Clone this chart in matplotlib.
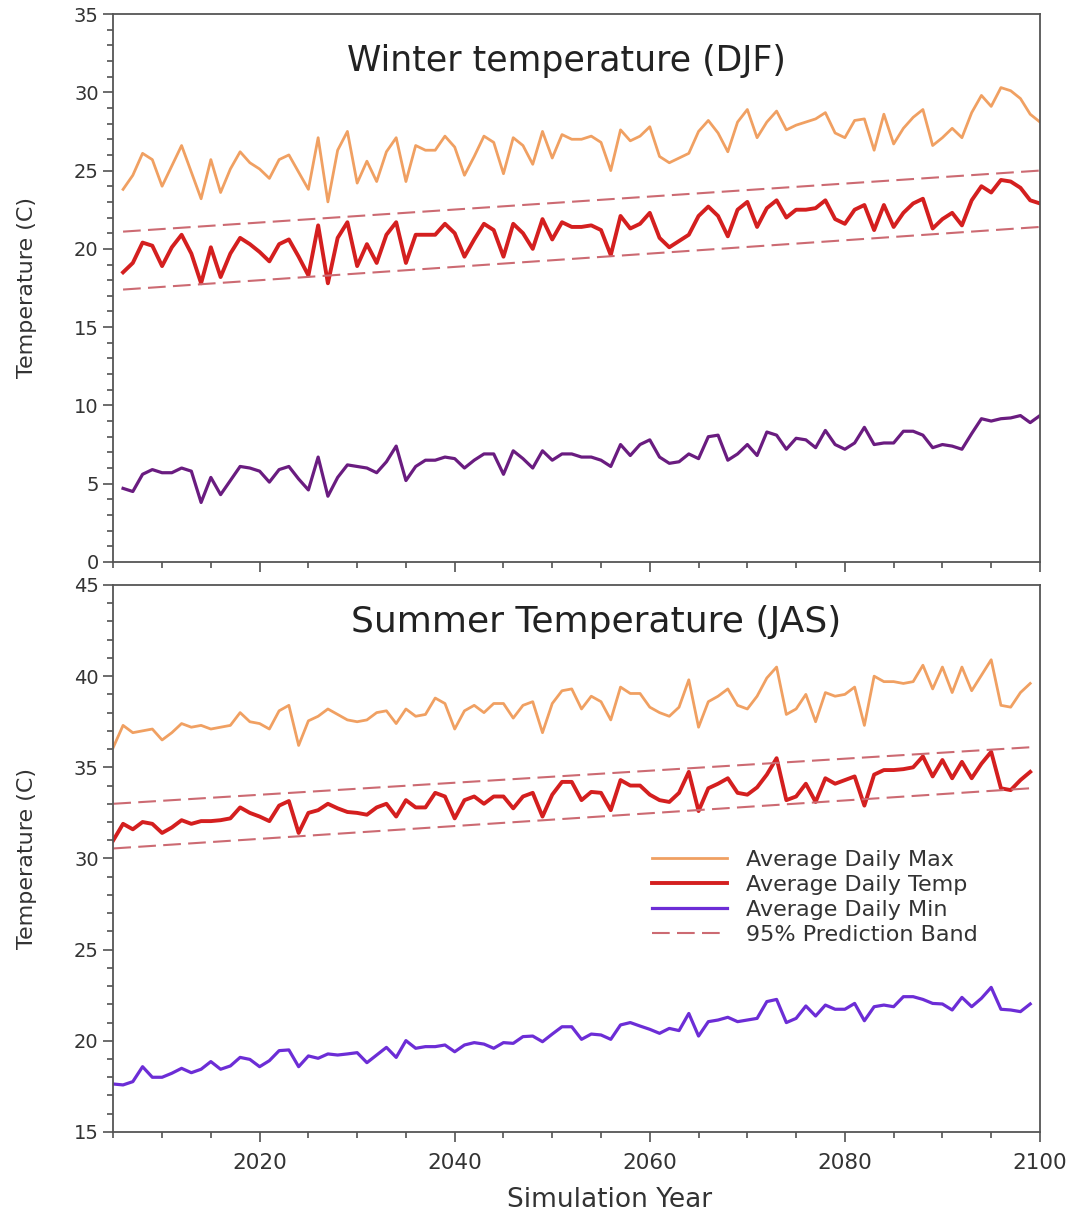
import numpy as np
import matplotlib.pyplot as plt
from matplotlib.ticker import MultipleLocator

plt.rcParams['font.family'] = ['DejaVu Sans']

# winter (DJF) series, 2006-2100
winter_years = list(range(2006, 2101))
winter_max = [23.8, 24.7, 26.1, 25.7, 24.0, 25.3, 26.6, 24.9, 23.2, 25.7,
              23.6, 25.1, 26.2, 25.5, 25.1, 24.5, 25.7, 26.0, 24.9, 23.8,
              27.1, 23.0, 26.3, 27.5, 24.2, 25.6, 24.3, 26.2, 27.1, 24.3,
              26.6, 26.3, 26.3, 27.2, 26.5, 24.7, 25.9, 27.2, 26.8, 24.8,
              27.1, 26.6, 25.4, 27.5, 25.8, 27.3, 27.0, 27.0, 27.2, 26.8,
              25.0, 27.6, 26.9, 27.2, 27.8, 25.9, 25.5, 25.8, 26.1, 27.5,
              28.2, 27.4, 26.2, 28.1, 28.9, 27.1, 28.1, 28.8, 27.6, 27.9,
              28.1, 28.3, 28.7, 27.4, 27.1, 28.2, 28.3, 26.3, 28.6, 26.7,
              27.7, 28.4, 28.9, 26.6, 27.1, 27.7, 27.1, 28.7, 29.8, 29.1,
              30.3, 30.1, 29.6, 28.6, 28.1]
winter_temp = [18.5, 19.1, 20.4, 20.2, 18.9, 20.1, 20.9, 19.7, 17.8, 20.1,
               18.2, 19.7, 20.7, 20.3, 19.8, 19.2, 20.3, 20.6, 19.5, 18.3,
               21.5, 17.8, 20.7, 21.7, 18.9, 20.3, 19.1, 20.9, 21.7, 19.1,
               20.9, 20.9, 20.9, 21.6, 21.0, 19.5, 20.6, 21.6, 21.2, 19.5,
               21.6, 21.0, 20.0, 21.9, 20.6, 21.7, 21.4, 21.4, 21.5, 21.2,
               19.6, 22.1, 21.3, 21.6, 22.3, 20.7, 20.1, 20.5, 20.9, 22.1,
               22.7, 22.1, 20.8, 22.5, 23.0, 21.4, 22.6, 23.1, 22.0, 22.5,
               22.5, 22.6, 23.1, 21.9, 21.6, 22.5, 22.8, 21.2, 22.8, 21.4,
               22.3, 22.9, 23.2, 21.3, 21.9, 22.3, 21.5, 23.1, 24.0, 23.6,
               24.4, 24.3, 23.9, 23.1, 22.9]
winter_min = [4.7, 4.5, 5.6, 5.9, 5.7, 5.7, 6.0, 5.8, 3.8, 5.4,
              4.3, 5.2, 6.1, 6.0, 5.8, 5.1, 5.9, 6.1, 5.3, 4.6,
              6.7, 4.2, 5.4, 6.2, 6.1, 6.0, 5.7, 6.4, 7.4, 5.2,
              6.1, 6.5, 6.5, 6.7, 6.6, 6.0, 6.5, 6.9, 6.9, 5.6,
              7.1, 6.6, 6.0, 7.1, 6.5, 6.9, 6.9, 6.7, 6.7, 6.5,
              6.1, 7.5, 6.8, 7.5, 7.8, 6.7, 6.3, 6.4, 6.9, 6.6,
              8.0, 8.1, 6.5, 6.9, 7.5, 6.8, 8.3, 8.1, 7.2, 7.9,
              7.8, 7.3, 8.4, 7.5, 7.2, 7.6, 8.6, 7.5, 7.6, 7.6,
              8.35, 8.35, 8.1, 7.3, 7.5, 7.4, 7.2, 8.2, 9.15, 9.0,
              9.15, 9.2, 9.35, 8.9, 9.35]
winter_band_years = [2006, 2100]
winter_upper = [21.1, 25.0]
winter_lower = [17.4, 21.4]

# summer (JAS) series, 2005-2099
summer_years = list(range(2005, 2100))
summer_max = [36.1, 37.3, 36.9, 37.0, 37.1, 36.5, 36.9, 37.4, 37.2, 37.3,
              37.1, 37.2, 37.3, 38.0, 37.5, 37.4, 37.1, 38.1, 38.4, 36.2,
              37.55, 37.8, 38.2, 37.9, 37.6, 37.5, 37.6, 38.0, 38.1, 37.4,
              38.2, 37.8, 37.9, 38.8, 38.5, 37.1, 38.1, 38.4, 38.0, 38.5,
              38.5, 37.7, 38.4, 38.6, 36.9, 38.5, 39.2, 39.3,
              38.2, 38.9, 38.6, 37.6, 39.4, 39.05, 39.05,
              38.3, 38.0, 37.8, 38.3, 39.8, 37.2, 38.6, 38.9, 39.3, 38.4,
              38.2, 38.9, 39.9, 40.5, 37.9, 38.2, 39.0, 37.5, 39.1, 38.9,
              39.0, 39.4, 37.3, 40.0, 39.7, 39.7, 39.6, 39.7, 40.6, 39.3,
              40.5, 39.1, 40.5, 39.2, 40.05, 40.9, 38.4, 38.3, 39.1, 39.6]
summer_temp = [31.0, 31.9, 31.6, 32.0, 31.9, 31.4, 31.7, 32.1, 31.9, 32.05,
               32.05, 32.1, 32.2, 32.8, 32.5, 32.3, 32.05, 32.9, 33.15, 31.4,
               32.5, 32.65, 33.0, 32.75, 32.55, 32.5, 32.4, 32.8, 33.0, 32.3,
               33.2, 32.8, 32.8, 33.6, 33.4, 32.2, 33.2, 33.4, 33.0, 33.4,
               33.4, 32.75, 33.4, 33.6, 32.3, 33.5, 34.2, 34.2,
               33.2, 33.65, 33.6, 32.65, 34.3, 34.0, 34.0,
               33.5, 33.2, 33.1, 33.6, 34.75, 32.6, 33.85, 34.1, 34.4, 33.6,
               33.5, 33.9, 34.6, 35.5, 33.2, 33.4, 34.1, 33.1, 34.4, 34.1,
               34.3, 34.5, 32.9, 34.6, 34.85, 34.85, 34.9, 35.0, 35.6, 34.5,
               35.4, 34.4, 35.3, 34.4, 35.2, 35.85, 33.85, 33.75, 34.3, 34.75]
summer_min = [17.63, 17.58, 17.76, 18.58, 18.0, 18.0, 18.22, 18.49, 18.25, 18.44,
              18.86, 18.44, 18.62, 19.09, 18.98, 18.58, 18.91, 19.46, 19.5, 18.58,
              19.17, 19.04, 19.28, 19.22, 19.28, 19.35, 18.8, 19.22, 19.64, 19.09,
              20.01, 19.59, 19.68, 19.68, 19.77, 19.4, 19.77, 19.9, 19.82, 19.59,
              19.9, 19.86, 20.23, 20.26, 19.95, 20.37, 20.77, 20.77,
              20.08, 20.37, 20.32, 20.08, 20.87, 21.0, 20.81,
              20.63, 20.41, 20.68, 20.56, 21.5, 20.26, 21.05, 21.14, 21.29, 21.05,
              21.14, 21.23, 22.15, 22.27, 21.0, 21.23, 21.91, 21.36, 21.96, 21.73,
              21.73, 22.05, 21.1, 21.87, 21.96, 21.87, 22.42, 22.42, 22.27, 22.05,
              22.02, 21.69, 22.38, 21.87, 22.33, 22.93, 21.73, 21.69, 21.6, 22.02]
summer_band_years = [2005, 2099]
summer_upper = [33.0, 36.1]
summer_lower = [30.55, 33.85]

c_max = '#f0a062'
c_temp = '#d41f1f'
c_min_w = '#6a1c80'
c_min_s = '#6c2dd6'
c_band = '#cc6a72'
dash = (8.5, 3.5)

fig = plt.figure(figsize=(10.75, 12.19), dpi=100)
ax1 = fig.add_axes([0.1054, 0.5390, 0.8620, 0.4495])
ax2 = fig.add_axes([0.1054, 0.0714, 0.8620, 0.4487])


def style(ax, ymin, ymax):
    ax.set_xlim(2005, 2100)
    ax.set_ylim(ymin, ymax)
    ax.xaxis.set_major_locator(MultipleLocator(20))
    ax.xaxis.set_minor_locator(MultipleLocator(5))
    ax.yaxis.set_major_locator(MultipleLocator(5))
    ax.yaxis.set_minor_locator(MultipleLocator(1))
    ax.tick_params(which='both', direction='out', top=False, right=False,
                   color='#444444', width=1.1)
    ax.tick_params(which='major', length=7, labelsize=14, labelcolor='#333333')
    ax.tick_params(which='minor', length=4)
    for s in ax.spines.values():
        s.set_color('#555555')
        s.set_linewidth(1.3)
    ax.set_ylabel('Temperature (C)', fontsize=16, color='#333333')
    ax.yaxis.set_label_coords(-0.082, 0.5)


# top panel
ax1.plot(winter_years, winter_max, color=c_max, lw=2.0)
ax1.plot(winter_years, winter_temp, color=c_temp, lw=2.8)
ax1.plot(winter_years, winter_min, color=c_min_w, lw=2.3)
ax1.plot(winter_band_years, winter_upper, color=c_band, lw=1.5, dashes=dash)
ax1.plot(winter_band_years, winter_lower, color=c_band, lw=1.5, dashes=dash)
style(ax1, 0, 35)
ax1.tick_params(axis='x', labelbottom=False)
ax1.text(0.489, 0.915, 'Winter temperature (DJF)', transform=ax1.transAxes,
         ha='center', va='center', fontsize=25, color='#222222')

# bottom panel
ax2.plot(summer_years, summer_max, color=c_max, lw=2.0, label='Average Daily Max')
ax2.plot(summer_years, summer_temp, color=c_temp, lw=2.8, label='Average Daily Temp')
ax2.plot(summer_years, summer_min, color=c_min_s, lw=2.3, label='Average Daily Min')
ax2.plot(summer_band_years, summer_upper, color=c_band, lw=1.5, dashes=dash,
         label='95% Prediction Band')
ax2.plot(summer_band_years, summer_lower, color=c_band, lw=1.5, dashes=dash)
style(ax2, 15, 45)
ax2.tick_params(axis='x', labelsize=15.5, pad=8)
ax2.set_xlabel('Simulation Year', fontsize=19, color='#333333')
ax2.xaxis.set_label_coords(0.536, -0.101)
ax2.text(0.521, 0.932, 'Summer Temperature (JAS)', transform=ax2.transAxes,
         ha='center', va='center', fontsize=26, color='#222222')

leg = ax2.legend(loc='upper left', bbox_to_anchor=(0.581, 0.515), frameon=False,
                 fontsize=16, handlelength=3.4, handletextpad=0.85,
                 labelspacing=0.22, borderpad=0, borderaxespad=0)
for t in leg.get_texts():
    t.set_color('#333333')

fig.savefig('out.png', dpi=100)
